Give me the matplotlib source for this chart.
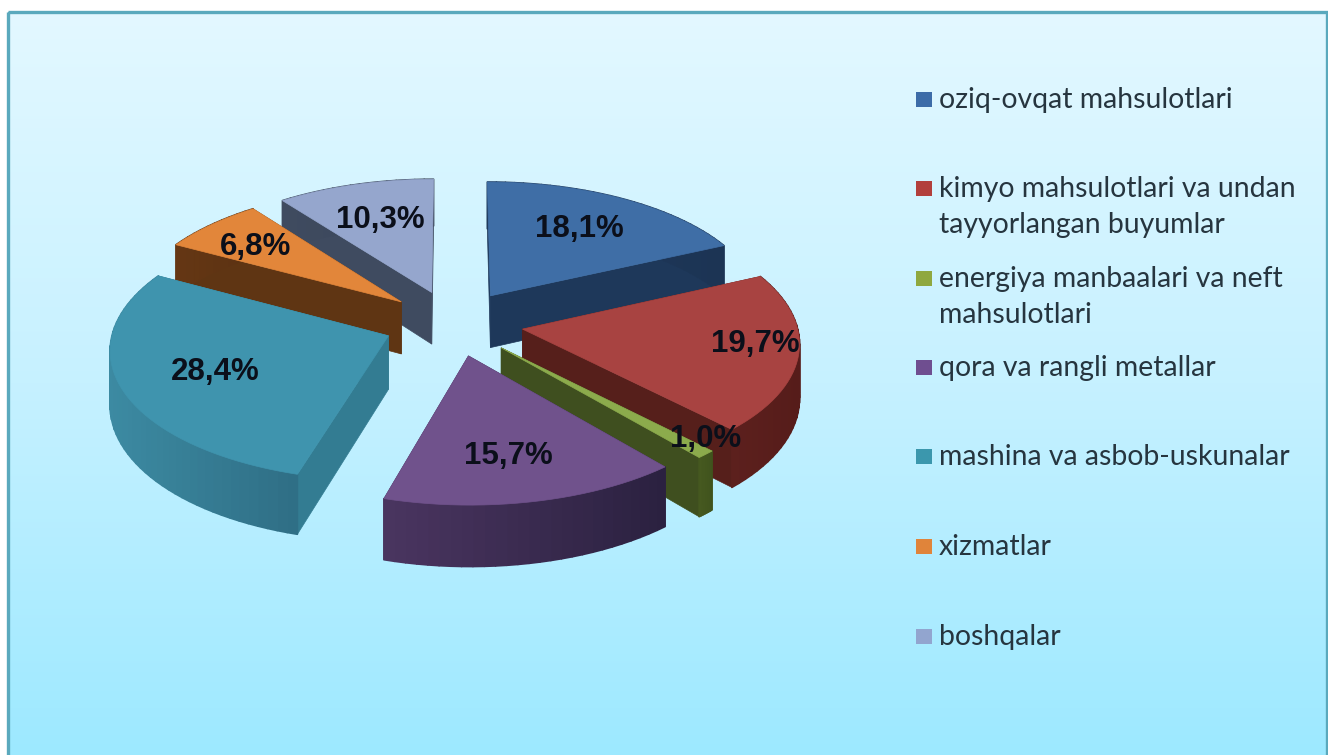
import numpy as np
import matplotlib
matplotlib.use("Agg")
import matplotlib.pyplot as plt
from matplotlib.colors import LinearSegmentedColormap, to_rgb
from matplotlib.patches import Polygon, Rectangle

categories = ["oziq-ovqat mahsulotlari",
              "kimyo mahsulotlari va undan\ntayyorlangan buyumlar",
              "energiya manbaalari va neft\nmahsulotlari",
              "qora va rangli metallar",
              "mashina va asbob-uskunalar",
              "xizmatlar",
              "boshqalar"]
values = [18.1, 19.7, 1.0, 15.7, 28.4, 6.8, 10.3]
value_labels = ["18,1%", "19,7%", "1,0%", "15,7%", "28,4%", "6,8%", "10,3%"]

top_colors = ["#3f6ea6", "#a84341", "#8cab4c", "#70528c", "#3f94ae", "#e2863a", "#95a6cd"]
legend_colors = ["#3c6ca8", "#b23f3c", "#8fa83f", "#6f4e90", "#3b97ad", "#e0843a", "#92a5cf"]
rim_left = ["#1f3a5c", "#5c201d", "#465a20", "#4a3560", "#3c8aa2", "#653714", "#3f4b60"]
rim_right = ["#1c3454", "#561c1a", "#40521d", "#2b2140", "#2f6e85", "#5c3212", "#3a4558"]
wall_colors = ["#1e385a", "#561f1b", "#3f4f1f", "#392a4e", "#337c92", "#5f3513", "#3f4b60"]
draw_order = [6, 0, 5, 4, 1, 2, 3]
label_radius = [0.63, 0.88, 1.02, 0.68, 0.69, 0.70, 0.62]
label_nudge = [(4, -4), (-10, -7), (-5, -18), (-4, 4), (9, 0), (-10, 0), (-2, -4)]
legend_baselines = [108, 197, 287, 376, 465, 555, 645]

W, H = 1328, 755
CX, CY, RX, RY = 453.5, 323.0, 274.0, 129.0
EXPLODE, PERSP, DEPTH, DEPTH_P = 0.255, 0.092, 53.0, 0.11

plt.rcParams["font.family"] = ["Liberation Sans", "DejaVu Sans"]
fig = plt.figure(figsize=(W / 100, H / 100), dpi=100, facecolor="white")
ax = fig.add_axes([0, 0, 1, 1])
ax.set_xlim(0, W)
ax.set_ylim(H, 0)
ax.axis("off")

bg = LinearSegmentedColormap.from_list("bg", ["#e3f8ff", "#c6f1ff", "#9de9ff"])
ax.imshow(np.linspace(0, 1, 256)[:, None], cmap=bg, aspect="auto",
          extent=(8, W - 1, H, 12), zorder=0)
ax.set_xlim(0, W)
ax.set_ylim(H, 0)
ax.add_patch(Rectangle((8, 12), W - 9, H, fill=False, ec="#5aa9bd", lw=2.4, zorder=1))


def project(X, Y, bottom=False):
    X, Y = np.asarray(X, float), np.asarray(Y, float)
    s = 1 / (1 + PERSP * Y)
    x = CX + RX * X * s
    y = CY - RY * Y * s
    if bottom:
        y = y + DEPTH / (1 + DEPTH_P * Y)
    return x, y


fracs = np.array(values) / sum(values)
edges = np.concatenate([[0], np.cumsum(fracs)]) * 2 * np.pi
z = 2
for i in draw_order:
    a0, a1 = edges[i], edges[i + 1]
    mid = (a0 + a1) / 2
    ox, oy = EXPLODE * np.sin(mid), EXPLODE * np.cos(mid)
    th = np.linspace(a0, a1, max(8, int(np.degrees(a1 - a0) / 2)))
    rx_pts, ry_pts = ox + np.sin(th), oy + np.cos(th)
    tx, ty = project(rx_pts, ry_pts)
    bx, by = project(rx_pts, ry_pts, bottom=True)
    ax0, ay0 = project(ox, oy)
    bx0, by0 = project(ox, oy, bottom=True)
    # radial walls
    for k in (0, -1):
        ax.add_patch(Polygon([(ax0, ay0), (tx[k], ty[k]), (bx[k], by[k]), (bx0, by0)],
                             fc=wall_colors[i], ec=wall_colors[i], lw=0.5, zorder=z))
    z += 1
    # outer rim, shaded along its length (right to left on the screen)
    c_l, c_r = np.array(to_rgb(rim_left[i])), np.array(to_rgb(rim_right[i]))
    span = max(tx.max() - tx.min(), 1)
    for k in range(len(th) - 1):
        t = ((tx[k] + tx[k + 1]) / 2 - tx.min()) / span
        col = c_l + (c_r - c_l) * t
        ax.add_patch(Polygon([(tx[k], ty[k]), (tx[k + 1], ty[k + 1]),
                              (bx[k + 1], by[k + 1]), (bx[k], by[k])],
                             fc=col, ec=col, lw=1.2, joinstyle="round", zorder=z))
    z += 1
    # top face
    ax.add_patch(Polygon(np.column_stack([np.r_[ax0, tx], np.r_[ay0, ty]]),
                         fc=top_colors[i], ec=top_colors[i], lw=0.5, zorder=z))
    z += 1

# value labels
for i, lab in enumerate(value_labels):
    mid = (edges[i] + edges[i + 1]) / 2
    r = EXPLODE + label_radius[i]
    lx, ly = project(r * np.sin(mid), r * np.cos(mid))
    ax.text(lx + label_nudge[i][0], ly + label_nudge[i][1], lab, ha="center", va="center",
            fontsize=22.5, fontweight="bold", color="#0b0f1a", zorder=200)

# legend
for name, col, base in zip(categories, legend_colors, legend_baselines):
    ax.add_patch(Rectangle((916, base - 16), 16, 15, fc=col, ec="none", zorder=200))
    lines = name.split("\n")
    for j, line in enumerate(lines):
        ax.text(939, base + j * 36, line, ha="left", va="baseline", fontsize=20.4,
                family=["Lato", "DejaVu Sans"], color="#26353f", zorder=200)

fig.savefig("out.png", dpi=100, facecolor="white")
